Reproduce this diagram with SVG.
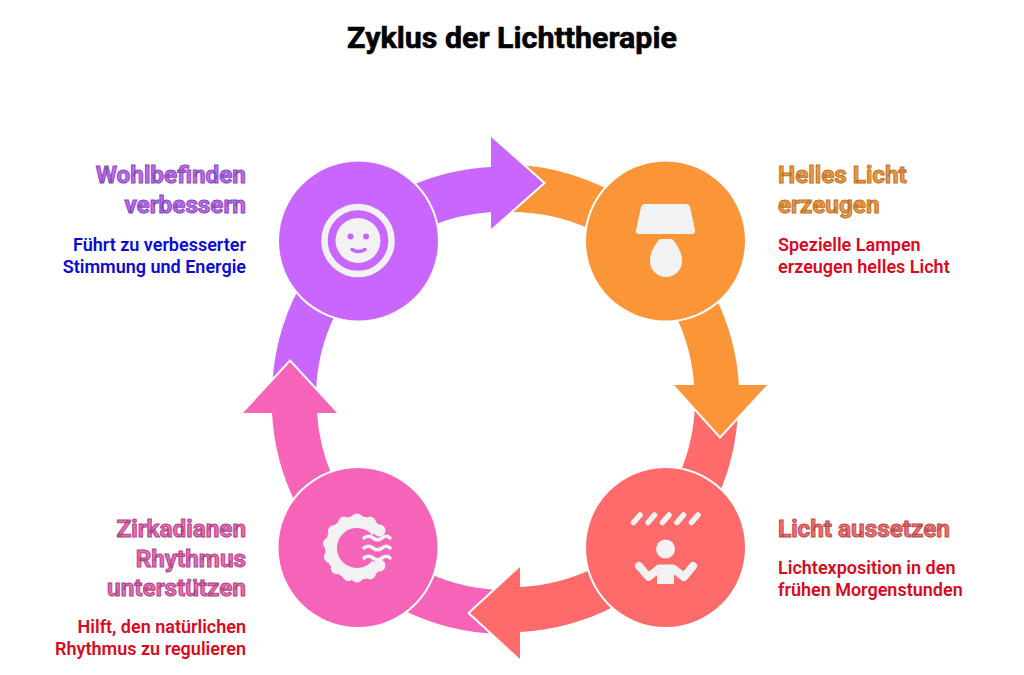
<svg xmlns="http://www.w3.org/2000/svg" width="1024" height="675" viewBox="0 0 1024 675">
<defs>
<style>
text{font-family:Roboto,"Liberation Sans",sans-serif;font-weight:700}
.title{font-size:30.400px;fill:#000;stroke:#000;stroke-width:.6}
.h{font-size:24.300px;stroke-width:1}
.b{font-size:18px;font-weight:600}
.e{text-anchor:end}
.hp{fill:#c866ff;stroke:#7d4fb0}
.ho{fill:#fb9637;stroke:#b5752f}
.hr{fill:#ff6b6b;stroke:#b04f50}
.hk{fill:#f766bb;stroke:#a34b80}
.blue{fill:#0b0bd0}
.red{fill:#d80a1e}
.purple{fill:#c866ff}.orange{fill:#fa9637}.coral{fill:#ff6b6b}.pink{fill:#f564b8}
.halo{stroke:#fff;stroke-width:4;paint-order:stroke;stroke-linejoin:miter}
.ic{fill:#f2f2f2}
.il{fill:none;stroke:#f2f2f2;stroke-linecap:round;stroke-linejoin:round}
</style>
</defs>
<rect width="1024" height="675" fill="#fff"/>
<text class="title" x="512" y="48" text-anchor="middle">Zyklus der Lichttherapie</text>
<g id="connectors">
<path class="orange" d="M520,165 A233,233 0 0 1 609,190 L592,230 A188,188 0 0 0 510,212 Z"/>
<path class="coral" d="M738,410 A233,233 0 0 1 719,494 L679,475 A188,188 0 0 0 695,400 Z"/>
<path class="pink" d="M500,634 A233,233 0 0 1 401,609 L428,573 A188,188 0 0 0 505,590 Z"/>
<path class="purple" d="M272,395 A233,233 0 0 1 299,288 L337,311 A188,188 0 0 0 316,400 Z"/>
<path class="purple halo" d="M410,186 A233,233 0 0 1 491,167 L491,137 L543,183 L491,229 L491,212 A188,188 0 0 0 431,226 Z"/>
<path class="orange halo" d="M715,296 A233,233 0 0 1 739,385 L767,385 L720,436 L674,385 L694,385 A188,188 0 0 0 675,314 Z"/>
<path class="coral halo" d="M617,605 A233,233 0 0 1 520,632 L520,659 L470,613 L520,567 L520,587 A188,188 0 0 0 594,568 Z"/>
<path class="pink halo" d="M296,504 A233,233 0 0 1 272,413 L243,413 L290,362 L337,413 L317,413 A188,188 0 0 0 333,478 Z"/>
</g>
<g id="node-wohlbefinden">
<circle class="purple halo" cx="358.500" cy="241" r="79.500"/>
<circle cx="358" cy="240.500" r="33.500" fill="none" stroke="#f2f2f2" stroke-width="6.500"/>
<circle class="ic" cx="358" cy="240.500" r="22.500"/>
<circle class="purple" cx="350.500" cy="236.500" r="3"/>
<circle class="purple" cx="366" cy="236.500" r="3"/>
<path d="M352,249.500 Q358.500,253.500 365,249.500" fill="none" stroke="#c866ff" stroke-width="3.500" stroke-linecap="round"/>
<text class="h hp e" x="246" y="182.700">Wohlbefinden</text>
<text class="h hp e" x="246" y="212.700">verbessern</text>
<text class="b blue e" x="246" y="250.500">Führt zu verbesserter</text>
<text class="b blue e" x="246" y="272.500">Stimmung und Energie</text>
</g>
<g id="node-licht-erzeugen">
<circle class="orange halo" cx="665.500" cy="241" r="79.500"/>
<path class="ic" d="M645,204 H686 Q689,204 690,207 L695,230 Q695.500,234 692,234 H639 Q635.500,234 636,230 L641,207 Q642,204 645,204 Z"/>
<path class="ic" d="M661,239 H671 Q673,239 674,241 C678,247 682,252 682,261 C682,271 674,277 666,277 C658,277 650,271 650,261 C650,252 654,247 658,241 Q659,239 661,239 Z"/>
<text class="h ho" x="778" y="182.700">Helles Licht</text>
<text class="h ho" x="778" y="212.700">erzeugen</text>
<text class="b red" x="778" y="250.500">Spezielle Lampen</text>
<text class="b red" x="778" y="272.500">erzeugen helles Licht</text>
</g>
<g id="node-licht-aussetzen">
<circle class="coral halo" cx="665.500" cy="547.500" r="79.500"/>
<g class="il" stroke-width="5.500">
<path d="M633.500,522.500 L640,515"/><path d="M648,522.500 L654.500,515"/><path d="M662.500,522.500 L669,515"/><path d="M677,522.500 L683.500,515"/><path d="M691.500,522.500 L698,515"/>
</g>
<circle class="ic" cx="665.500" cy="549" r="9.500"/>
<path class="il" stroke-width="8" d="M639,566 L648.500,577 L659,568.500 H673 L684,577 L693,566"/>
<rect class="ic" x="657" y="565" width="17" height="19"/>
<text class="h hr" x="778" y="536.700">Licht aussetzen</text>
<text class="b red" x="778" y="573.500">Lichtexposition in den</text>
<text class="b red" x="778" y="595.500">frühen Morgenstunden</text>
</g>
<g id="node-rhythmus">
<circle class="pink halo" cx="358" cy="547.500" r="79.500"/>
<path d="M376.900,531.300 A26,26 0 1 0 376.900,564.700" fill="none" stroke="#f2f2f2" stroke-width="12"/>
<g class="ic">
<circle cx="357" cy="519.500" r="6"/>
<circle cx="357" cy="519.500" r="6" transform="rotate(27 357 548)"/>
<circle cx="357" cy="519.500" r="6" transform="rotate(52 357 548)"/>
<circle cx="357" cy="519.500" r="6" transform="rotate(-27 357 548)"/>
<circle cx="357" cy="519.500" r="6" transform="rotate(-54 357 548)"/>
<circle cx="357" cy="519.500" r="6" transform="rotate(-81 357 548)"/>
<circle cx="357" cy="519.500" r="6" transform="rotate(-108 357 548)"/>
<circle cx="357" cy="519.500" r="6" transform="rotate(-135 357 548)"/>
<circle cx="357" cy="519.500" r="6" transform="rotate(-162 357 548)"/>
<circle cx="357" cy="519.500" r="6" transform="rotate(180 357 548)"/>
<circle cx="357" cy="519.500" r="6" transform="rotate(153 357 548)"/>
<circle cx="357" cy="519.500" r="6" transform="rotate(128 357 548)"/>
</g>
<g class="il" stroke-width="3.500">
<path d="M364,538 q4.500,-3.500 9,0 t9,0 t8,0"/>
<path d="M364,548 q4.500,-3.500 9,0 t9,0 t8,0"/>
<path d="M364,558 q4.500,-3.500 9,0 t9,0 t8,0"/>
</g>
<text class="h hk e" x="246" y="536.700">Zirkadianen</text>
<text class="h hk e" x="246" y="566.700">Rhythmus</text>
<text class="h hk e" x="246" y="595.700">unterstützen</text>
<text class="b red e" x="246" y="632.500">Hilft, den natürlichen</text>
<text class="b red e" x="246" y="654.500">Rhythmus zu regulieren</text>
</g>
</svg>
